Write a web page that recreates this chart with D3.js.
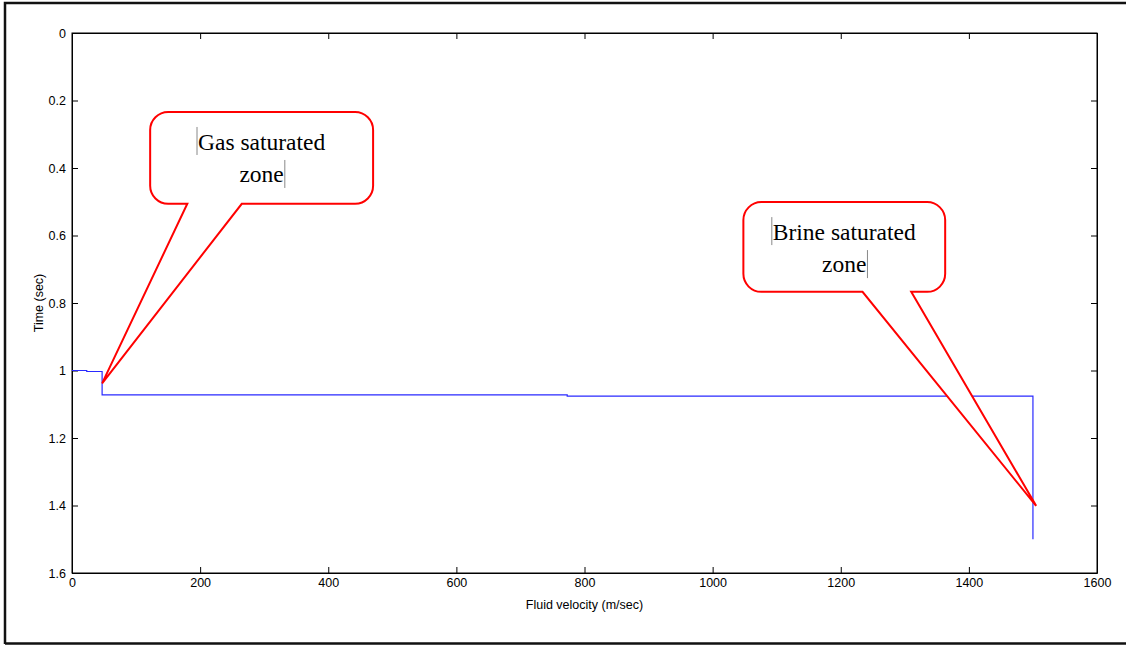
<!DOCTYPE html>
<html>
<head>
<meta charset="utf-8">
<script src="https://cdn.jsdelivr.net/npm/d3@7"></script>
<style>
  html, body { margin: 0; padding: 0; background: #fff; }
  svg { display: block; }
  .tick text, .axis-title {
    font-family: "Liberation Sans", Arial, sans-serif;
    font-size: 12.5px; fill: #000;
  }
</style>
</head>
<body>
<svg id="chart" width="1126" height="646"></svg>
<script>
// Fluid velocity vs two-way time: a stepped profile through the reservoir
const velocity = [0, 23, 47, 773, 1500, 1500];
const time     = [1.000, 1.003, 1.072, 1.076, 1.076, 1.500];

const xTicks = [0, 200, 400, 600, 800, 1000, 1200, 1400, 1600];
const xTickLabels = ["0", "200", "400", "600", "800", "1000", "1200", "1400", "1600"];
const yTicks = [0, 0.2, 0.4, 0.6, 0.8, 1.0, 1.2, 1.4, 1.6];
const yTickLabels = ["0", "0.2", "0.4", "0.6", "0.8", "1", "1.2", "1.4", "1.6"];

const xLabel = "Fluid velocity (m/sec)";
const yLabel = "Time (sec)";

// Callout boxes (data units): box extents, pointer base on the box bottom, pointer tip
const calloutLines = [["Gas saturated", "zone"], ["Brine saturated", "zone"]];
const calloutBox = [
  { x0: 122, x1: 470, y0: 0.234, y1: 0.506 },
  { x0: 1048, x1: 1363, y0: 0.501, y1: 0.767 }
];
const calloutBase = [[180, 265], [1234, 1310]];
const calloutTip = [[47, 1.038], [1505, 1.401]];

const svg = d3.select("#chart");
const W = 1126, H = 646;
const m = { left: 72, top: 33, right: W - 1097, bottom: H - 573 };

const x = d3.scaleLinear().domain([0, 1600]).range([m.left, W - m.right]);
const y = d3.scaleLinear().domain([0, 1.6]).range([m.top, H - m.bottom]);

// outer figure frame
svg.append("path")
  .attr("d", `M5,644 L5,3 L1126,3 M5,643.5 L1126,643.5`)
  .attr("fill", "none").attr("stroke", "#111").attr("stroke-width", 2.5);

// plot box
svg.append("rect")
  .attr("x", x(0)).attr("y", y(0))
  .attr("width", x(1600) - x(0)).attr("height", y(1.6) - y(0))
  .attr("fill", "#fff").attr("stroke", "#000").attr("stroke-width", 1);

// axes with inward ticks on all four sides
const tickLen = 6;
const xb = svg.append("g").attr("transform", `translate(0,${y(1.6)})`)
  .call(d3.axisBottom(x).tickValues(xTicks).tickFormat((d, i) => xTickLabels[i])
    .tickSizeInner(-tickLen).tickSizeOuter(0).tickPadding(5));
const xt = svg.append("g").attr("transform", `translate(0,${y(0)})`)
  .call(d3.axisTop(x).tickValues(xTicks).tickFormat("").tickSizeInner(-tickLen).tickSizeOuter(0));
const yl = svg.append("g").attr("transform", `translate(${x(0)},0)`)
  .call(d3.axisLeft(y).tickValues(yTicks).tickFormat((d, i) => yTickLabels[i])
    .tickSizeInner(-tickLen).tickSizeOuter(0).tickPadding(6));
const yr = svg.append("g").attr("transform", `translate(${x(1600)},0)`)
  .call(d3.axisRight(y).tickValues(yTicks).tickFormat("").tickSizeInner(-tickLen).tickSizeOuter(0));
[xb, xt, yl, yr].forEach(g => {
  g.attr("font-family", null).attr("font-size", null);
  g.select(".domain").attr("stroke", "#000");
  g.selectAll(".tick line").attr("stroke", "#000");
});
yl.selectAll(".tick text").attr("dy", "0.32em");

// axis titles
svg.append("text").attr("class", "axis-title")
  .attr("x", (x(0) + x(1600)) / 2).attr("y", 609)
  .attr("text-anchor", "middle")
  .text(xLabel);
svg.append("text").attr("class", "axis-title")
  .attr("transform", `translate(43,${(y(0) + y(1.6)) / 2}) rotate(-90)`)
  .attr("text-anchor", "middle")
  .text(yLabel);

// velocity profile
const pts = velocity.map((v, i) => [v, time[i]]);
svg.append("path")
  .datum(pts)
  .attr("fill", "none")
  .attr("stroke", "#2a2aff")
  .attr("stroke-width", 1.2)
  .attr("d", d3.line().x(d => x(d[0])).y(d => y(d[1])).curve(d3.curveStepAfter));

// callouts: rounded box with a wedge pointer
const r = 18;
calloutBox.forEach((b, i) => {
  const X0 = x(b.x0), X1 = x(b.x1), Y0 = y(b.y0), Y1 = y(b.y1);
  const bx0 = x(calloutBase[i][0]), bx1 = x(calloutBase[i][1]);
  const tx = x(calloutTip[i][0]), ty = y(calloutTip[i][1]);
  const p = d3.path();
  p.moveTo(X0 + r, Y0);
  p.lineTo(X1 - r, Y0);
  p.arcTo(X1, Y0, X1, Y0 + r, r);
  p.lineTo(X1, Y1 - r);
  p.arcTo(X1, Y1, X1 - r, Y1, r);
  p.lineTo(bx1, Y1);
  p.lineTo(tx, ty);
  p.lineTo(bx0, Y1);
  p.lineTo(X0 + r, Y1);
  p.arcTo(X0, Y1, X0, Y1 - r, r);
  p.lineTo(X0, Y0 + r);
  p.arcTo(X0, Y0, X0 + r, Y0, r);
  p.closePath();
  svg.append("path").attr("d", p.toString())
    .attr("fill", "#fff").attr("stroke", "#ff0000").attr("stroke-width", 2)
    .attr("stroke-linejoin", "miter");

  const cx = (X0 + X1) / 2;
  const texts = calloutLines[i].map((s, k) =>
    svg.append("text")
      .attr("x", cx).attr("y", Y0 + 38 + k * 32)
      .attr("text-anchor", "middle")
      .style("font-family", "'Liberation Serif', 'Times New Roman', serif")
      .style("font-size", "23.5px").style("fill", "#000")
      .text(s));
  // text-insertion marks around the callout text
  const w0 = texts[0].node().getComputedTextLength();
  const w1 = texts[1].node().getComputedTextLength();
  const l0 = cx - w0 / 2 - 1, r1 = cx + w1 / 2 + 1;
  svg.append("line").attr("x1", l0).attr("x2", l0)
    .attr("y1", Y0 + 15).attr("y2", Y0 + 43)
    .attr("stroke", "#888").attr("stroke-width", 1);
  svg.append("line").attr("x1", r1).attr("x2", r1)
    .attr("y1", Y0 + 48).attr("y2", Y0 + 76)
    .attr("stroke", "#888").attr("stroke-width", 1);
});
</script>
</body>
</html>
